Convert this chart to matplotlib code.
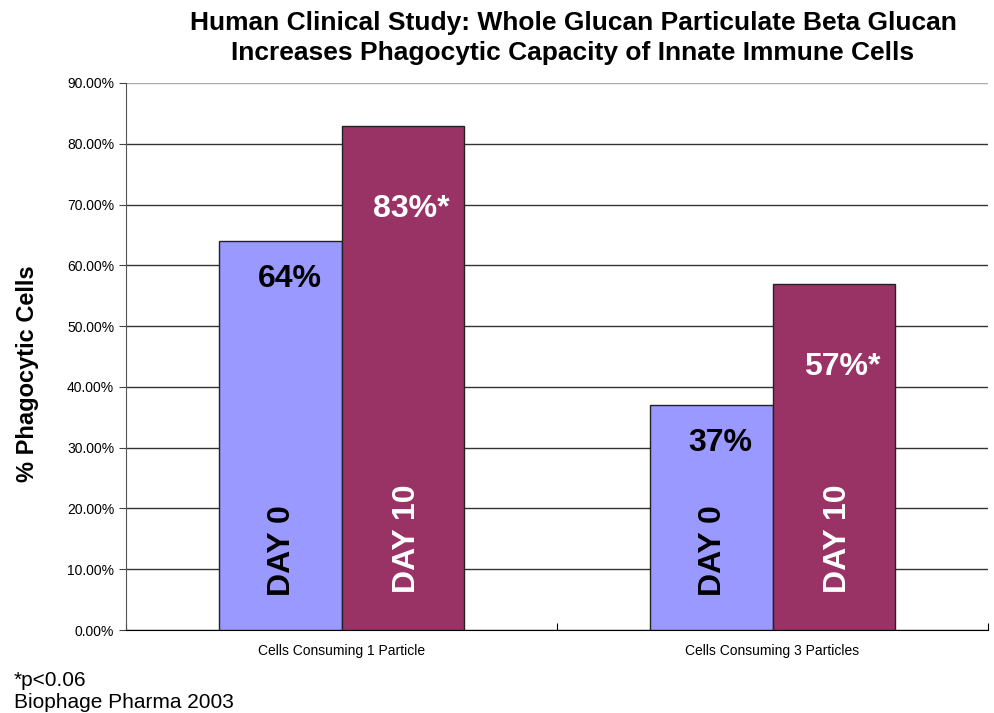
import numpy as np
import matplotlib
matplotlib.use('Agg')
import matplotlib.pyplot as plt

plt.rcParams['font.family'] = ['Liberation Sans', 'DejaVu Sans']

categories = ['Cells Consuming 1 Particle', 'Cells Consuming 3 Particles']
day0 = [0.64, 0.37]
day10 = [0.83, 0.57]
day0_labels = ['64%', '37%']
day10_labels = ['83%*', '57%*']
yticks = np.arange(0, 0.91, 0.1)

fig = plt.figure(figsize=(9.94, 7.13), dpi=100)
ax = fig.add_axes([126 / 994, 83 / 713, 862 / 994, 547 / 713])

x = np.arange(len(categories))
w = 0.285
ax.bar(x - w / 2, day0, w, color='#9999FF', edgecolor='#222222', linewidth=1, zorder=3)
ax.bar(x + w / 2, day10, w, color='#993366', edgecolor='#222222', linewidth=1, zorder=3)

# value labels sit a bit right of the bar centre, inside the bar
for i in range(len(categories)):
    ax.text(x[i] - w / 2 + 0.022, day0[i] - 0.062, day0_labels[i], ha='center', va='center',
            fontsize=23, fontweight='bold', color='black', zorder=4)
    ax.text(x[i] + w / 2 + 0.019, day10[i] - 0.137, day10_labels[i], ha='center', va='center',
            fontsize=23, fontweight='bold', color='white', zorder=4)
    ax.text(x[i] - w / 2 + 0.005, 0.130, 'DAY 0', ha='center', va='center', rotation=90,
            fontsize=23, fontweight='bold', color='black', zorder=4)
    ax.text(x[i] + w / 2 + 0.01, 0.151, 'DAY 10', ha='center', va='center', rotation=90,
            fontsize=23, fontweight='bold', color='white', zorder=4)

ax.set_xlim(-0.5, 1.5)
ax.set_ylim(0, 0.9)
ax.set_yticks(yticks)
ax.set_yticklabels([f'{v * 100:.2f}%' for v in yticks], fontsize=10)
ax.yaxis.grid(True, color='#333333', linewidth=1, zorder=0)
ax.get_ygridlines()[-1].set_color('#aaaaaa')
ax.set_xticks([-0.5, 0.5, 1.5])
ax.set_xticklabels([])
ax.set_xticks(x, minor=True)
ax.set_xticklabels(categories, minor=True, fontsize=10)
ax.tick_params(axis='x', which='minor', length=0, pad=10)
ax.tick_params(axis='x', which='major', length=5, direction='in')
ax.tick_params(axis='y', length=5, direction='out', color='#444444')
for s in ['top', 'right']:
    ax.spines[s].set_visible(False)
ax.spines['left'].set_color('#555555')
ax.spines['bottom'].set_color('black')

fig.text(28 / 994, 1 - 374 / 713, '% Phagocytic Cells', ha='center', va='center',
         rotation=90, fontsize=17, fontweight='bold')

fig.text(573 / 994, 1 - 38 / 713,
         'Human Clinical Study: Whole Glucan Particulate Beta Glucan\n'
         'Increases Phagocytic Capacity of Innate Immune Cells',
         ha='center', va='center', fontsize=19, fontweight='bold', linespacing=1.3)
fig.text(14 / 994, 1 - 680 / 713, '*p<0.06', ha='left', va='center', fontsize=15)
fig.text(14 / 994, 1 - 703 / 713, 'Biophage Pharma 2003', ha='left', va='center', fontsize=15)

fig.savefig('out.png', dpi=100)
